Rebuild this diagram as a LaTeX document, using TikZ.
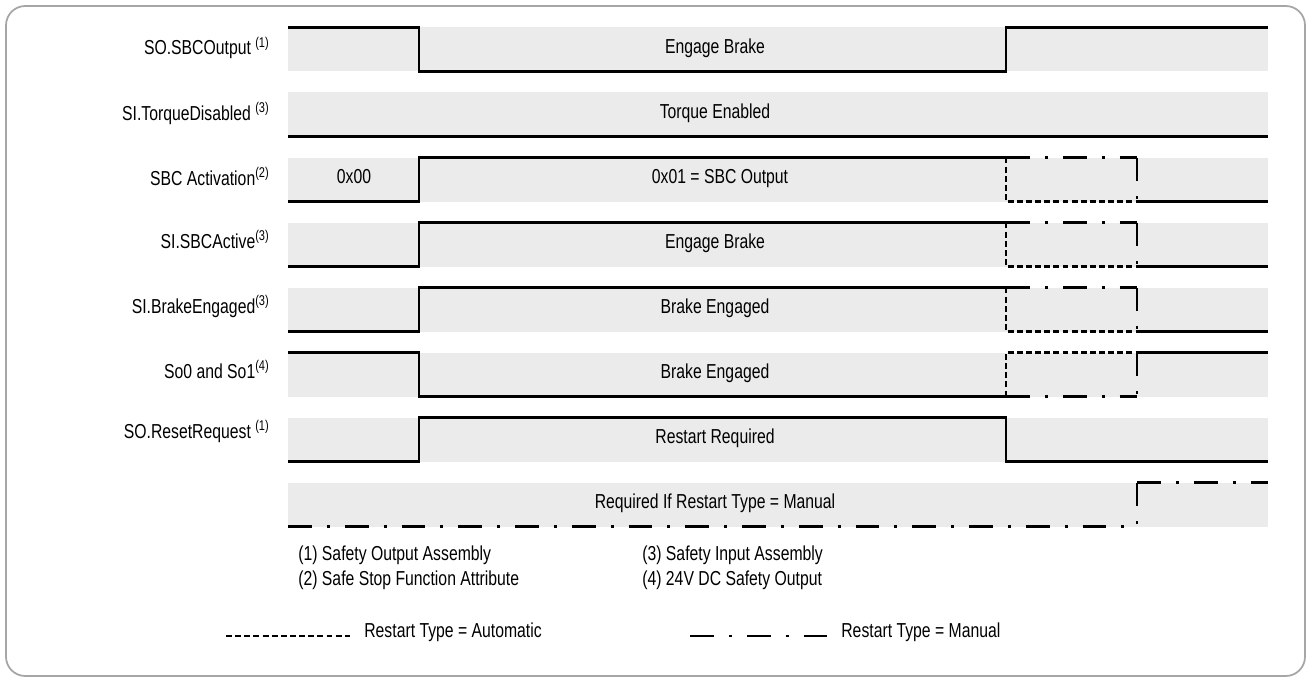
\documentclass[tikz,border=0pt]{standalone}
\usepackage{fontspec}
\setmainfont{Liberation Sans}[FakeStretch=0.78]

\tikzset{
  band/.style={fill=black!8},
  wave/.style={line width=1.5pt},
  autoline/.style={wave, dash pattern=on 3.4pt off 1.8pt},
  manline/.style={wave, dash pattern=on 13.6pt off 8.5pt on 1.7pt off 8.5pt},
  siglabel/.style={anchor=base east, inner sep=0pt},
  state/.style={anchor=base, inner sep=0pt},
  note/.style={anchor=base west, inner sep=0pt},
}

\begin{document}
\begin{tikzpicture}[x=0.02cm,y=-0.02cm,font=\fontsize{11.5}{13}\selectfont]
  \useasboundingbox (0,0) rectangle (1307,679);
  \draw[line width=1pt,black!35,rounded corners=11pt] (6,6) rectangle (1305,676);
  % grey bands
  \foreach \k in {0,...,7} {
    \fill[band] (288,{27.5+65*\k}) rectangle (1268,{71.5+65*\k});
  }
  % signal names
  \node[siglabel] (nSBCOut)  at (270,55)  {SO.SBCOutput \textsuperscript{(1)}};
  \node[siglabel] (nTorque)  at (270,120) {SI.TorqueDisabled \textsuperscript{(3)}};
  \node[siglabel] (nAct)     at (270,185) {SBC Activation\textsuperscript{(2)}};
  \node[siglabel] (nActive)  at (270,248) {SI.SBCActive\textsuperscript{(3)}};
  \node[siglabel] (nEngaged) at (270,313) {SI.BrakeEngaged\textsuperscript{(3)}};
  \node[siglabel] (nSo)      at (270,378) {So0 and So1\textsuperscript{(4)}};
  \node[siglabel] (nReset)   at (270,438) {SO.ResetRequest \textsuperscript{(1)}};
  % states
  \node[state] (sEngage)   at (715,53.5)  {Engage Brake};
  \node[state] (sTorque)   at (715,118.5) {Torque Enabled};
  \node[state] (sZero)     at (354,183.5) {0x00};
  \node[state] (sOne)      at (720,183.5) {0x01 = SBC Output};
  \node[state] (sEngage2)  at (715,248.5) {Engage Brake};
  \node[state] (sEngaged)  at (715,313.5) {Brake Engaged};
  \node[state] (sEngaged2) at (715,378.5) {Brake Engaged};
  \node[state] (sRestart)  at (715,443.5) {Restart Required};
  \node[state] (sManual)   at (715,508.5) {Required If Restart Type = Manual};
  % waveforms
  \draw[wave] (288,27.5) -- (419,27.5) -- (419,71.5) -- (1006,71.5) -- (1006,27.5) -- (1268,27.5);
  \draw[wave] (288,136.5) -- (1268,136.5);
  \foreach \t in {157.5,222.5,287.5} {
    \draw[wave] (288,{\t+44}) -- (419,{\t+44}) -- (419,\t) -- (1006,\t);
    \draw[autoline] (1006,\t) -- (1006,{\t+44}) -- (1137,{\t+44});
    \draw[wave] (1137,{\t+44}) -- (1268,{\t+44});
    \draw[manline] (1006,\t) -- (1137,\t);
    \draw[manline] (1137,\t) -- (1137,{\t+44});
  }
  \draw[wave] (288,352.5) -- (419,352.5) -- (419,396.5) -- (1006,396.5);
  \draw[autoline] (1006,396.5) -- (1006,352.5) -- (1137,352.5);
  \draw[wave] (1137,352.5) -- (1268,352.5);
  \draw[manline] (1006,396.5) -- (1137,396.5);
  \draw[manline] (1137,352.5) -- (1137,396.5);
  \draw[wave] (288,461.5) -- (419,461.5) -- (419,417.5) -- (1006,417.5) -- (1006,461.5) -- (1268,461.5);
  \draw[manline] (288,526.5) -- (1137,526.5);
  \draw[manline] (1137,482.5) -- (1137,526.5);
  \draw[manline] (1137,482.5) -- (1268,482.5);
  % footnotes
  \node[note] (f1) at (298,560) {(1) Safety Output Assembly};
  \node[note] (f2) at (298,585) {(2) Safe Stop Function Attribute};
  \node[note] (f3) at (642,560) {(3) Safety Input Assembly};
  \node[note] (f4) at (642,585) {(4) 24V DC Safety Output};
  % legend
  \coordinate (autoA) at (226,636);
  \coordinate (autoB) at (350,636);
  \draw[autoline] (autoA) -- (autoB);
  \node[note] (lAuto) at (364,637) {Restart Type = Automatic};
  \coordinate (manA) at (690,636);
  \coordinate (manB) at (828,636);
  \draw[manline] (manA) -- (manB);
  \node[note] (lMan) at (841,637) {Restart Type = Manual};
\end{tikzpicture}
\end{document}
